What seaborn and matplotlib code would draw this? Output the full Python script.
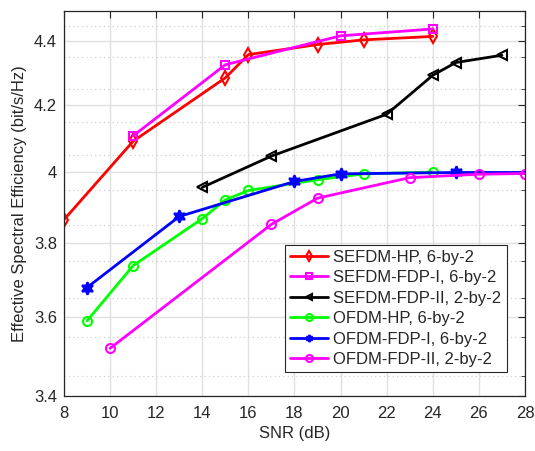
import numpy as np
import pandas as pd
import matplotlib
matplotlib.use("Agg")
import matplotlib.pyplot as plt
from matplotlib.ticker import FixedLocator, NullFormatter, NullLocator
import seaborn as sns

# SNR (dB) sample points and effective spectral efficiency (bit/s/Hz) per scheme
snr_sefdm_hp = [8, 11, 15, 16, 19, 21, 24]
eff_sefdm_hp = [3.865, 4.092, 4.285, 4.358, 4.390, 4.405, 4.416]

snr_sefdm_fdp1 = [11, 15, 20, 24]
eff_sefdm_fdp1 = [4.108, 4.326, 4.418, 4.440]

snr_sefdm_fdp2 = [14, 17, 22, 24, 25, 27]
eff_sefdm_fdp2 = [3.957, 4.048, 4.173, 4.293, 4.333, 4.356]

snr_ofdm_hp = [9, 11, 14, 15, 16, 19, 21, 24]
eff_ofdm_hp = [3.591, 3.738, 3.868, 3.921, 3.948, 3.979, 3.996, 4.001]

snr_ofdm_fdp1 = [9, 13, 18, 20, 25, 28]
eff_ofdm_fdp1 = [3.679, 3.874, 3.974, 3.996, 4.000, 4.000]

snr_ofdm_fdp2 = [10, 17, 19, 23, 26, 28]
eff_ofdm_fdp2 = [3.520, 3.852, 3.926, 3.985, 3.995, 3.997]

series_labels = [
    "SEFDM-HP, 6-by-2",
    "SEFDM-FDP-I, 6-by-2",
    "SEFDM-FDP-II, 2-by-2",
    "OFDM-HP, 6-by-2",
    "OFDM-FDP-I, 6-by-2",
    "OFDM-FDP-II, 2-by-2",
]

x_ticks = [8, 10, 12, 14, 16, 18, 20, 22, 24, 26, 28]
y_ticks = [3.4, 3.6, 3.8, 4.0, 4.2, 4.4]
y_tick_labels = ["3.4", "3.6", "3.8", "4", "4.2", "4.4"]

sns.set_theme(style="white")
plt.rcParams["font.family"] = ["Liberation Sans", "DejaVu Sans"]

fig = plt.figure(figsize=(5.35, 4.51), dpi=100)
ax = fig.add_axes([0.1196, 0.122, 0.8617, 0.8547])

styles = [
    dict(color="#ff0000", marker="d", ms=7, mfc="none", every=None),
    dict(color="#ff00ff", marker="s", ms=6, mfc="none", every=None),
    dict(color="#000000", marker="<", ms=7, mfc="none", every=None),
    dict(color="#00ff00", marker="o", ms=6.5, mfc="none", every=None),
    dict(color="#0000ff", marker=(6, 1, 0), ms=9, mfc="#0000ff", every=slice(0, 5)),
    dict(color="#ff00ff", marker="o", ms=6.5, mfc="none", every=None),
]
data = [
    (snr_sefdm_hp, eff_sefdm_hp),
    (snr_sefdm_fdp1, eff_sefdm_fdp1),
    (snr_sefdm_fdp2, eff_sefdm_fdp2),
    (snr_ofdm_hp, eff_ofdm_hp),
    (snr_ofdm_fdp1, eff_ofdm_fdp1),
    (snr_ofdm_fdp2, eff_ofdm_fdp2),
]

for (xs, ys), label, st in zip(data, series_labels, styles):
    df = pd.DataFrame({"SNR": xs, "Eff": ys})
    sns.lineplot(
        data=df, x="SNR", y="Eff", ax=ax, sort=False,
        color=st["color"], marker=st["marker"], markersize=st["ms"],
        markerfacecolor=st["mfc"], markeredgecolor=st["color"],
        markeredgewidth=1.5, linewidth=2.0, label=label,
        markevery=st["every"],
    )

ax.set_yscale("log")
ax.set_xlim(8, 28)
ax.set_ylim(3.4, 4.5)
ax.set_xticks(x_ticks)
ax.set_xticklabels([str(t) for t in x_ticks])
ax.yaxis.set_major_locator(FixedLocator(y_ticks))
ax.set_yticklabels(y_tick_labels)
ax.yaxis.set_minor_locator(FixedLocator(np.arange(3.45, 4.5, 0.1)))
ax.yaxis.set_minor_formatter(NullFormatter())
ax.xaxis.set_minor_locator(NullLocator())

ax.grid(True, which="major", color="#e0e0e0", linewidth=1.0, linestyle="-")
ax.grid(True, which="minor", axis="y", color="#d0d0d0", linewidth=0.9, linestyle=(0, (1, 2.5)))
ax.set_axisbelow(True)

for sp in ax.spines.values():
    sp.set_color("#262626")
    sp.set_linewidth(0.9)
    sp.set_visible(True)

ax.tick_params(axis="both", which="both", direction="in", top=True, right=True,
               color="#262626", labelsize=12, labelcolor="#262626")
ax.tick_params(which="major", length=5, width=0.8)
ax.tick_params(axis="x", which="major", pad=7)
ax.tick_params(axis="y", which="major", pad=5)
ax.tick_params(which="minor", length=3, width=0.6)

ax.set_xlabel("SNR (dB)", fontsize=12, color="#262626", labelpad=4)
ax.set_ylabel("Effective Spectral Efficiency (bit/s/Hz)", fontsize=12, color="#262626", labelpad=5)

leg = ax.legend(loc="lower right", bbox_to_anchor=(0.96, 0.062), fontsize=12,
                frameon=True, fancybox=False, edgecolor="#262626", framealpha=1,
                labelspacing=0.33, handlelength=2.3, handletextpad=0.3,
                borderpad=0.3, borderaxespad=0.0)
leg.get_frame().set_linewidth(0.8)
for h in leg.get_lines():
    h.set_markersize(5)

fig.savefig("out.png", dpi=100)
